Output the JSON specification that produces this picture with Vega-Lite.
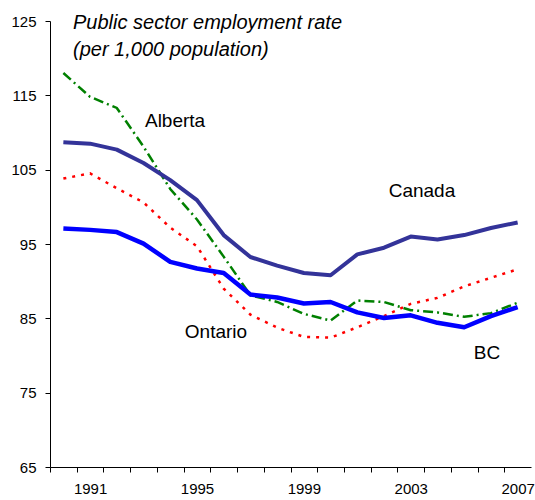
{
  "$schema": "https://vega.github.io/schema/vega-lite/v6.json",
  "width": 481,
  "height": 446,
  "autosize": {"type": "none"},
  "padding": {"left": 50, "top": 21, "right": 4, "bottom": 33},
  "background": "white",
  "config": {
    "view": {"stroke": null},
    "font": "Liberation Sans",
    "axis": {"grid": false, "domainColor": "black", "tickColor": "black", "labelColor": "black", "labelFont": "Liberation Sans", "labelFontSize": 15, "tickSize": 5, "domainWidth": 1, "tickWidth": 1}
  },
  "title": {
    "text": ["Public sector employment rate", "(per 1,000 population)"],
    "font": "Liberation Sans",
    "fontStyle": "italic",
    "fontWeight": "normal",
    "fontSize": 20,
    "lineHeight": 27,
    "anchor": "start",
    "frame": "group",
    "orient": "top",
    "color": "black",
    "offset": -46,
    "dx": 23
  },
  "datasets": {
    "series": [
      {"region": "Alberta", "year": 1990, "value": 118.0},
      {"region": "Alberta", "year": 1991, "value": 114.8},
      {"region": "Alberta", "year": 1992, "value": 113.3},
      {"region": "Alberta", "year": 1993, "value": 108.1},
      {"region": "Alberta", "year": 1994, "value": 102.4},
      {"region": "Alberta", "year": 1995, "value": 98.3},
      {"region": "Alberta", "year": 1996, "value": 93.3},
      {"region": "Alberta", "year": 1997, "value": 88.1},
      {"region": "Alberta", "year": 1998, "value": 87.2},
      {"region": "Alberta", "year": 1999, "value": 85.6},
      {"region": "Alberta", "year": 2000, "value": 84.7},
      {"region": "Alberta", "year": 2001, "value": 87.4},
      {"region": "Alberta", "year": 2002, "value": 87.2},
      {"region": "Alberta", "year": 2003, "value": 86.1},
      {"region": "Alberta", "year": 2004, "value": 85.8},
      {"region": "Alberta", "year": 2005, "value": 85.2},
      {"region": "Alberta", "year": 2006, "value": 85.7},
      {"region": "Alberta", "year": 2007, "value": 87.1},
      {"region": "Ontario", "year": 1990, "value": 103.8},
      {"region": "Ontario", "year": 1991, "value": 104.5},
      {"region": "Ontario", "year": 1992, "value": 102.5},
      {"region": "Ontario", "year": 1993, "value": 100.6},
      {"region": "Ontario", "year": 1994, "value": 97.2},
      {"region": "Ontario", "year": 1995, "value": 94.7},
      {"region": "Ontario", "year": 1996, "value": 89.0},
      {"region": "Ontario", "year": 1997, "value": 85.5},
      {"region": "Ontario", "year": 1998, "value": 83.75},
      {"region": "Ontario", "year": 1999, "value": 82.5},
      {"region": "Ontario", "year": 2000, "value": 82.4},
      {"region": "Ontario", "year": 2001, "value": 83.8},
      {"region": "Ontario", "year": 2002, "value": 85.3},
      {"region": "Ontario", "year": 2003, "value": 86.95},
      {"region": "Ontario", "year": 2004, "value": 87.75},
      {"region": "Ontario", "year": 2005, "value": 89.3},
      {"region": "Ontario", "year": 2006, "value": 90.45},
      {"region": "Ontario", "year": 2007, "value": 91.6},
      {"region": "Canada", "year": 1990, "value": 108.7},
      {"region": "Canada", "year": 1991, "value": 108.5},
      {"region": "Canada", "year": 1992, "value": 107.7},
      {"region": "Canada", "year": 1993, "value": 105.9},
      {"region": "Canada", "year": 1994, "value": 103.6},
      {"region": "Canada", "year": 1995, "value": 100.9},
      {"region": "Canada", "year": 1996, "value": 96.2},
      {"region": "Canada", "year": 1997, "value": 93.25},
      {"region": "Canada", "year": 1998, "value": 92.1},
      {"region": "Canada", "year": 1999, "value": 91.1},
      {"region": "Canada", "year": 2000, "value": 90.8},
      {"region": "Canada", "year": 2001, "value": 93.6},
      {"region": "Canada", "year": 2002, "value": 94.5},
      {"region": "Canada", "year": 2003, "value": 96.0},
      {"region": "Canada", "year": 2004, "value": 95.6},
      {"region": "Canada", "year": 2005, "value": 96.2},
      {"region": "Canada", "year": 2006, "value": 97.15},
      {"region": "Canada", "year": 2007, "value": 97.9},
      {"region": "BC", "year": 1990, "value": 97.1},
      {"region": "BC", "year": 1991, "value": 96.9},
      {"region": "BC", "year": 1992, "value": 96.6},
      {"region": "BC", "year": 1993, "value": 95.05},
      {"region": "BC", "year": 1994, "value": 92.6},
      {"region": "BC", "year": 1995, "value": 91.7},
      {"region": "BC", "year": 1996, "value": 91.1},
      {"region": "BC", "year": 1997, "value": 88.2},
      {"region": "BC", "year": 1998, "value": 87.8},
      {"region": "BC", "year": 1999, "value": 87.0},
      {"region": "BC", "year": 2000, "value": 87.2},
      {"region": "BC", "year": 2001, "value": 85.8},
      {"region": "BC", "year": 2002, "value": 85.05},
      {"region": "BC", "year": 2003, "value": 85.4},
      {"region": "BC", "year": 2004, "value": 84.4},
      {"region": "BC", "year": 2005, "value": 83.8},
      {"region": "BC", "year": 2006, "value": 85.3},
      {"region": "BC", "year": 2007, "value": 86.5}
    ],
    "labels": [
      {"label": "Alberta", "year": 1994.18, "value": 111.6},
      {"label": "Canada", "year": 2003.42, "value": 102.1},
      {"label": "Ontario", "year": 1995.71, "value": 83.1},
      {"label": "BC", "year": 2005.85, "value": 80.3}
    ]
  },
  "encoding": {
    "x": {
      "field": "year", "type": "quantitative",
      "scale": {"domain": [1989.5, 2007.5], "nice": false, "zero": false},
      "axis": {
        "title": null,
        "values": [1990, 1991, 1992, 1993, 1994, 1995, 1996, 1997, 1998, 1999, 2000, 2001, 2002, 2003, 2004, 2005, 2006, 2007, 2008],
        "format": "d",
        "labelExpr": "datum.label == '1991' || datum.label == '1995' || datum.label == '1999' || datum.label == '2003' || datum.label == '2007' ? datum.label : ''",
        "tickOffset": -13.36,
        "labelOffset": 13.36,
        "labelOverlap": false,
        "labelFlush": false,
        "labelBound": false,
        "labelPadding": 9
      }
    },
    "y": {
      "field": "value", "type": "quantitative",
      "scale": {"domain": [65, 125], "nice": false, "zero": false},
      "axis": {
        "title": null,
        "values": [65, 75, 85, 95, 105, 115, 125],
        "labelPadding": 9
      }
    }
  },
  "layer": [
    {
      "data": {"name": "series"},
      "transform": [{"filter": "datum.region == 'Alberta'"}],
      "mark": {"type": "line", "color": "#008000", "strokeWidth": 2.5, "strokeDash": [10, 4, 2, 4], "strokeCap": "butt"}
    },
    {
      "data": {"name": "series"},
      "transform": [{"filter": "datum.region == 'Ontario'"}],
      "mark": {"type": "line", "color": "#FF0000", "strokeWidth": 2.5, "strokeDash": [3, 6], "strokeCap": "butt"}
    },
    {
      "data": {"name": "series"},
      "transform": [{"filter": "datum.region == 'Canada'"}],
      "mark": {"type": "line", "color": "#333399", "strokeWidth": 4, "strokeJoin": "round"}
    },
    {
      "data": {"name": "series"},
      "transform": [{"filter": "datum.region == 'BC'"}],
      "mark": {"type": "line", "color": "#0000FF", "strokeWidth": 4.5, "strokeJoin": "round"}
    },
    {
      "data": {"name": "labels"},
      "mark": {"type": "text", "font": "Liberation Sans", "fontSize": 19, "color": "black", "align": "center", "baseline": "middle"},
      "encoding": {
        "text": {"field": "label"}
      }
    }
  ]
}
